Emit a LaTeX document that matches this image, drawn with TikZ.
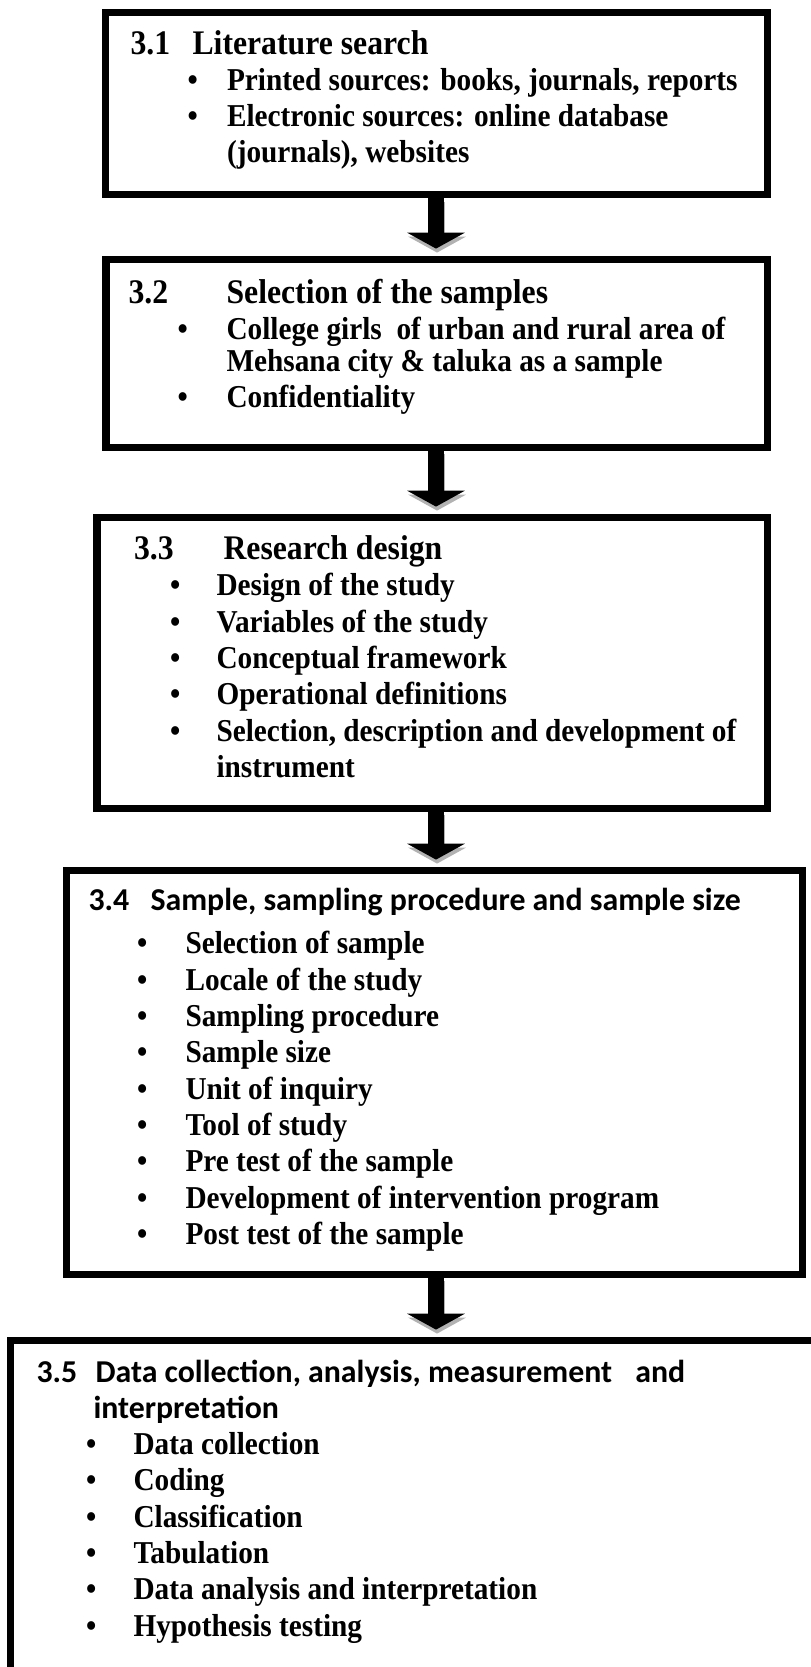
\documentclass[tikz,border=0pt]{standalone}
\usepackage{fontspec}
\setmainfont{Liberation Serif}[FakeStretch=0.92]
\newfontfamily\calibri{Carlito}
\usetikzlibrary{arrows.meta, fit}

\newdimen\unitpx
\unitpx=0.377pt
% bullet: offset of the bullet, room for the bullet
\newcommand{\bul}[2]{\hspace*{#1\unitpx}\makebox[#2\unitpx][l]{\textbullet}}
\newcommand{\ind}[1]{\hspace*{#1\unitpx}}
\newcommand{\hd}[2]{\makebox[#1\unitpx][l]{#2}}
\newcommand{\hdsize}{\fontsize{13}{13.69}\selectfont}

\begin{document}
\begin{tikzpicture}[x=\unitpx, y=-\unitpx,
  box/.style={draw, line width=2.64pt, inner sep=0pt},
  txt/.style={anchor=base west, inner sep=0pt, font=\bfseries\fontsize{12}{13.69}\selectfont},
  bigarrow/.style={line width=6pt, shorten >=2.6pt, -{Triangle[width=21.5pt, length=6pt]}},
  bigarrowshade/.style={bigarrow, draw=gray!60, fill=gray!60, transform canvas={shift={(0.4pt,-1.5pt)}}}]
\useasboundingbox (0,0) rectangle (811,1667);

% the five boxes
\node[box, fit={(105.5,12) (767,194.5)}] (b1) {};
\node[box, fit={(106,259) (767,447)}] (b2) {};
\node[box, fit={(97,517) (767,808)}] (b3) {};
\node[box, fit={(66.5,870) (802.5,1274)}] (b4) {};
\node[box, fit={(10.5,1340) (850,1720)}] (b5) {};

% texts
\node[txt] (t1) at (130,54) {\begin{tabular}[t]{@{}l@{}}
  {\hdsize\hd{62}{3.1}Literature search}\\
  \bul{57}{39.5}Printed sources: books, journals, reports\\
  \bul{57}{39.5}Electronic sources: online database\\
  \ind{96.5}(journals), websites
\end{tabular}};

\node[txt] (t2) at (128,303) {\begin{tabular}[t]{@{}l@{}}
  {\hdsize\hd{98}{3.2}Selection of the samples}\\
  \bul{49}{49}College girls\ \ of urban and rural area of\\[-4\unitpx]
  \ind{98}Mehsana city \& taluka as a sample\\
  \bul{49}{49}Confidentiality
\end{tabular}};

\node[txt] (t3) at (133.5,559.5) {\begin{tabular}[t]{@{}l@{}}
  {\hdsize\hd{89.5}{3.3}Research design}\\
  \bul{36}{46.5}Design of the study\\
  \bul{36}{46.5}Variables of the study\\
  \bul{36}{46.5}Conceptual framework\\
  \bul{36}{46.5}Operational definitions\\
  \bul{36}{46.5}Selection, description and development of\\
  \ind{82.5}instrument
\end{tabular}};

\node[txt] (t4) at (88,910) {\begin{tabular}[t]{@{}l@{}}
  {\calibri\hd{62}{3.4}Sample, sampling procedure and sample size}\\[7.5\unitpx]
  \bul{48.5}{48.5}Selection of sample\\
  \bul{48.5}{48.5}Locale of the study\\
  \bul{48.5}{48.5}Sampling procedure\\
  \bul{48.5}{48.5}Sample size\\
  \bul{48.5}{48.5}Unit of inquiry\\
  \bul{48.5}{48.5}Tool of study\\
  \bul{48.5}{48.5}Pre test of the sample\\
  \bul{48.5}{48.5}Development of intervention program\\
  \bul{48.5}{48.5}Post test of the sample
\end{tabular}};

\node[txt] (t5) at (36,1382) {\begin{tabular}[t]{@{}l@{}}
  {\calibri\hd{59}{3.5}Data collection, analysis, measurement\hspace{16\unitpx} and}\\
  {\calibri\ind{57}interpretation}\\
  \bul{49.5}{47.5}Data collection\\
  \bul{49.5}{47.5}Coding\\
  \bul{49.5}{47.5}Classification\\
  \bul{49.5}{47.5}Tabulation\\
  \bul{49.5}{47.5}Data analysis and interpretation\\
  \bul{49.5}{47.5}Hypothesis testing
\end{tabular}};

% arrows between the boxes
\coordinate (ax) at (436,0);
\foreach \a/\b in {b1/b2, b2/b3, b3/b4, b4/b5} {
  \draw[bigarrowshade] (ax |- \a.south) -- (ax |- \b.north);
  \draw[bigarrow] (ax |- \a.south) -- (ax |- \b.north);
}
\end{tikzpicture}
\end{document}
